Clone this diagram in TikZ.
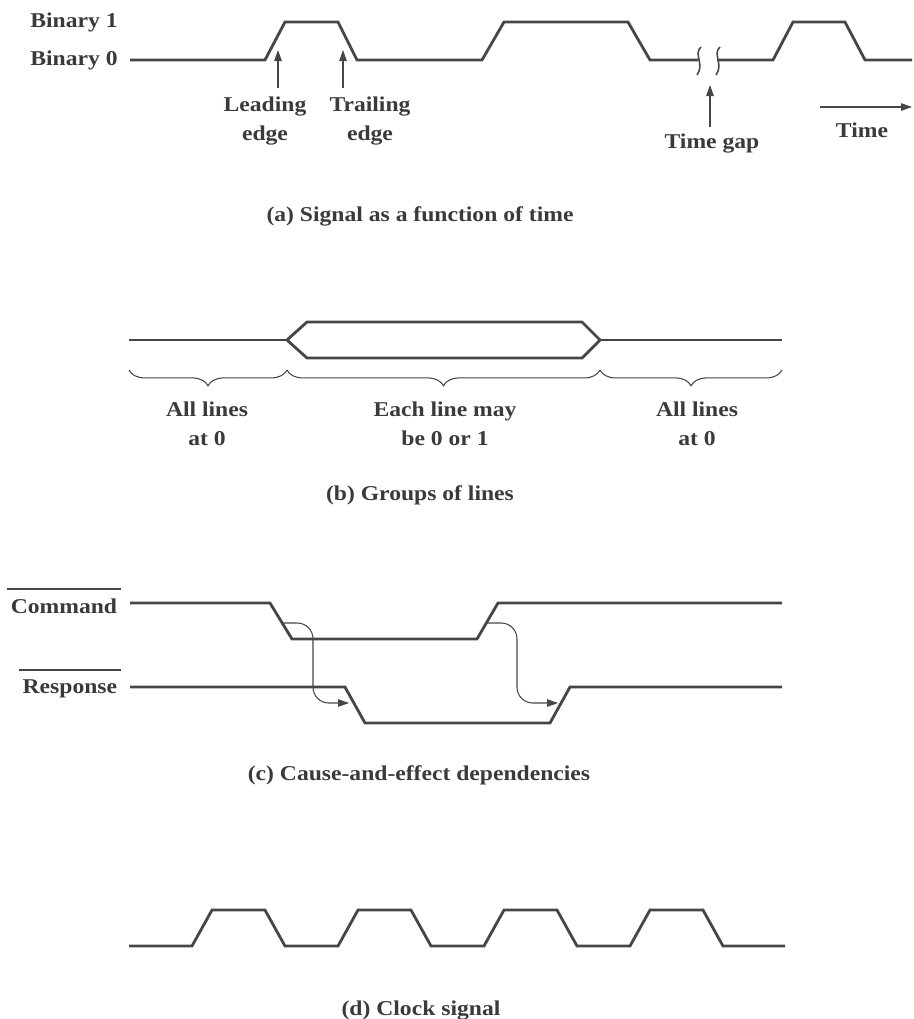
\documentclass[tikz,border=0pt]{standalone}
\usepackage{fontspec}
\setmainfont{Liberation Serif}[FakeStretch=1.12]
\usetikzlibrary{arrows.meta,decorations.pathreplacing}
\definecolor{ink}{RGB}{58,58,58}
\definecolor{wire}{RGB}{70,70,70}
\tikzset{
  sig/.style={wire, line width=1.6pt},
  gapmark/.style={wire, line width=0.9pt},
  edgearr/.style={-{Triangle[length=2.2mm,width=1.5mm]}, wire, line width=0.6pt},
  cause/.style={-{Triangle[length=2.2mm,width=1.5mm]}, wire, line width=0.6pt, rounded corners=9pt},
  brc/.style={wire, line width=0.6pt, decorate, decoration={brace, mirror, amplitude=9pt}},
  lbl/.style={text=ink, font=\fontsize{12}{16.5}\selectfont\bfseries, inner sep=0pt, align=center},
  subcap/.style={lbl},
  sname/.style={lbl, inner xsep=2pt, inner ysep=5pt},
  bar/.style={wire, line width=1pt},
}

\begin{document}
\begin{tikzpicture}[x=0.02cm, y=-0.02cm]
  \useasboundingbox (0,0) rectangle (914,1019);

  % (a) signal as a function of time
  \node[lbl, anchor=base west] (bin1) at (30,27) {Binary 1};
  \node[lbl, anchor=base west] (bin0) at (30,65) {Binary 0};
  \draw[sig] (130,60) -- (265,60) -- (285,22) -- (338,22) -- (357,60)
    -- (482,60) -- (504,22) -- (628,22) -- (650,60) -- (698,60);
  \draw[sig] (717,60) -- (773,60) -- (793,22) -- (845,22) -- (865,60) -- (912,60);
  \draw[gapmark] (701,47) .. controls (693,54) and (705,64) .. (697,75);
  \draw[gapmark] (720,47) .. controls (712,54) and (724,64) .. (716,75);
  \coordinate (lead) at (278,50);
  \coordinate (leadfoot) at (278,88);
  \coordinate (trail) at (343,50);
  \coordinate (trailfoot) at (343,88);
  \coordinate (gap) at (710,85);
  \coordinate (gapfoot) at (710,127);
  \node[lbl, anchor=north] (leadtxt) at (265,97) {Leading\\edge};
  \node[lbl, anchor=north] (trailtxt) at (370,97) {Trailing\\edge};
  \node[lbl, anchor=base] (gaptxt) at (712,148) {Time gap};
  \draw[edgearr] (leadfoot) -- (lead);
  \draw[edgearr] (trailfoot) -- (trail);
  \draw[edgearr] (gapfoot) -- (gap);
  \coordinate (t0) at (820,107);
  \coordinate (t1) at (912,107);
  \draw[edgearr] (t0) -- (t1);
  \node[lbl, anchor=base] (timetxt) at (862,137) {Time};
  \node[subcap, anchor=base] (capa) at (420,221) {(a) Signal as a function of time};

  % (b) groups of lines
  \draw[sig] (129,340) -- (287,340);
  \draw[sig] (287,340) -- (307,322) -- (582,322) -- (600,340)
    -- (582,358) -- (307,358) -- cycle;
  \draw[sig] (600,340) -- (782,340);
  \coordinate (k0) at (129,370);
  \coordinate (k1) at (287,370);
  \coordinate (k2) at (600,370);
  \coordinate (k3) at (782,370);
  \draw[brc] (k0) -- (k1);
  \draw[brc] (k1) -- (k2);
  \draw[brc] (k2) -- (k3);
  \node[lbl, anchor=north] (zero1) at (207,402) {All lines\\at 0};
  \node[lbl, anchor=north] (either) at (445,402) {Each line may\\be 0 or 1};
  \node[lbl, anchor=north] (zero2) at (697,402) {All lines\\at 0};
  \node[subcap, anchor=base] (capb) at (420,500) {(b) Groups of lines};

  % (c) cause and effect
  \node[sname, anchor=base east] (cmd) at (121,613) {Command};
  \node[sname, anchor=base east] (resp) at (121,693) {Response};
  \draw[bar] (cmd.north west) -- (cmd.north east);
  \draw[bar] (resp.north west) -- (resp.north east);
  \draw[sig] (130,603) -- (270,603) -- (292,639) -- (477,639) -- (498,603) -- (782,603);
  \draw[sig] (130,687) -- (345,687) -- (365,723) -- (550,723) -- (570,687) -- (782,687);
  \coordinate (c1s) at (283,623);
  \coordinate (c1m) at (313,663);
  \coordinate (c1e) at (349,703);
  \coordinate (c2s) at (487,623);
  \coordinate (c2m) at (517,663);
  \coordinate (c2e) at (558,703);
  \draw[cause] (c1s) -| (c1m) |- (c1e);
  \draw[cause] (c2s) -| (c2m) |- (c2e);
  \node[subcap, anchor=base] (capc) at (419,780) {(c) Cause-and-effect dependencies};

  % (d) clock signal
  \draw[sig] (129,946) \foreach \r in {192,338,484,630}{
    -- (\r,946) -- ({\r+20},910) -- ({\r+73},910) -- ({\r+93},946)} -- (785,946);
  \node[subcap, anchor=base] (capd) at (421,1015) {(d) Clock signal};
\end{tikzpicture}
\end{document}
